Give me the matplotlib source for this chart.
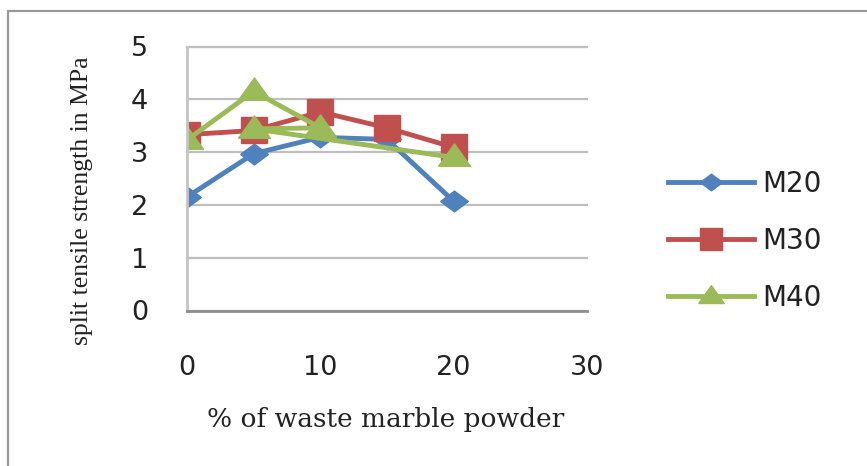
import matplotlib
matplotlib.use("Agg")
from matplotlib import pyplot as plt
from matplotlib.patches import Rectangle

# % of waste marble powder
pct_m20 = [0, 5, 10, 15, 20]
pct_m30 = [0, 5, 10, 15, 20]
pct_m40 = [0, 5, 10, 5, 20]

# split tensile strength (MPa)
m20 = [2.15, 2.97, 3.28, 3.24, 2.07]
m30 = [3.33, 3.41, 3.76, 3.46, 3.09]
m40 = [3.23, 4.15, 3.46, 3.44, 2.90]

series_names = ["M20", "M30", "M40"]
x_ticks = [0, 10, 20, 30]
y_ticks = [0, 1, 2, 3, 4, 5]

blue = "#4F81BD"
red = "#C0504D"
green = "#9BBB59"

# wide diamond and flat triangle, like the office chart markers
diamond = [(-1, 0), (0, 0.75), (1, 0), (0, -0.75), (-1, 0)]
triangle = [(-1, -0.55), (1, -0.55), (0, 0.85), (-1, -0.55)]

fig = plt.figure(figsize=(8.67, 4.66), dpi=100)
ax = fig.add_axes([187 / 867, 1 - 310.5 / 466, 400 / 867, 264 / 466])

ax.plot(pct_m20, m20, color=blue, lw=3.5, marker=diamond, ms=20,
        mec=blue, mfc=blue, label=series_names[0])
ax.plot(pct_m30, m30, color=red, lw=3.5, marker="s", ms=19,
        mec=red, mfc=red, label=series_names[1])
ax.plot(pct_m40, m40, color=green, lw=3.5, marker=triangle, ms=23,
        mec=green, mfc=green, label=series_names[2])

ax.set_xlim(0, 30)
ax.set_ylim(0, 5)
ax.set_xticks(x_ticks)
ax.set_yticks(y_ticks)
ax.tick_params(axis="both", length=0, labelsize=19.5, labelcolor="#222222")
ax.tick_params(axis="x", pad=32)
ax.tick_params(axis="y", pad=28)

# gridlines
ax.grid(axis="y", color="#BEBEBE", lw=1.6)
ax.set_axisbelow(True)
for s in ["top", "right"]:
    ax.spines[s].set_visible(False)
ax.spines["left"].set_color("#C4C4C4")
ax.spines["left"].set_linewidth(2)
ax.spines["bottom"].set_color("#8E8E8E")
ax.spines["bottom"].set_linewidth(2)
for line in ax.get_ygridlines():
    line.set_clip_on(False)

fig.text(386 / 867, 1 - 420 / 466, "% of waste marble powder", ha="center",
         va="center", family="DejaVu Serif", fontsize=19, color="#222222")
fig.text(82 / 867, 1 - 201 / 466, "split tensile strength in MPa", ha="center",
         va="center", rotation=90, family="Liberation Serif", fontsize=18.5,
         color="#222222")

fig.legend(loc="center left", bbox_to_anchor=(668 / 867, 1 - 241 / 466),
           frameon=False, fontsize=20, handlelength=3.1, handletextpad=0.3,
           labelspacing=1.05, borderpad=0, borderaxespad=0, markerscale=0.8,
           labelcolor="#222222")

# outer chart frame
fig.patches.append(Rectangle((8 / 867, -0.2), 1.2, 1 - 11 / 466 + 0.2,
                             transform=fig.transFigure, fill=False,
                             edgecolor="#999999", lw=1.6))

fig.savefig("out.png", dpi=100)
